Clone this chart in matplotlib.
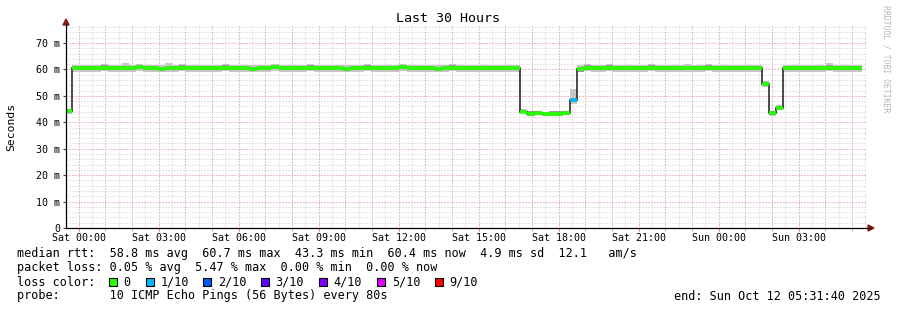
import numpy as np
import matplotlib
matplotlib.use("Agg")
import matplotlib.pyplot as plt
from matplotlib.patches import Rectangle, Polygon
from matplotlib.lines import Line2D

# ---- data (16 minute bins, hours relative to Sat 00:00) ----
bin_start = -0.503
bin_hours = 16 / 60.0

median_ms = [
    44.3, 60.5, 60.6, 60.4, 60.5, 60.7, 60.5, 60.6, 60.4, 60.5,
    60.8, 60.5, 60.6, 60.3, 60.5, 60.6, 60.7, 60.5, 60.4, 60.6,
    60.5, 60.5, 60.7, 60.4, 60.6, 60.5, 60.3, 60.5, 60.6, 60.8,
    60.5, 60.4, 60.6, 60.5, 60.7, 60.5, 60.4, 60.6, 60.5, 60.3,
    60.6, 60.5, 60.7, 60.5, 60.4, 60.6, 60.5, 60.8, 60.5, 60.4,
    60.6, 60.5, 60.3, 60.5, 60.7, 60.5, 60.6, 60.4, 60.5, 60.6,
    60.5, 60.4, 60.6, 60.5, 44.0, 43.3, 43.4, 43.2, 43.3, 43.3,
    43.4, 48.5, 60.0, 60.7, 60.6, 60.5, 60.7, 60.6, 60.5, 60.4,
    60.6, 60.5, 60.7, 60.5, 60.4, 60.6, 60.5, 60.6, 60.4, 60.5,
    60.7, 60.5, 60.6, 60.4, 60.5, 60.6, 60.5, 60.4, 54.5, 43.5,
    45.5, 60.5, 60.6, 60.4, 60.5, 60.6, 60.5, 60.7, 60.5, 60.6,
    60.4, 60.5,
]
smoke_hi = [
    45.0, 61.7, 61.8, 61.5, 61.7, 61.9, 61.8, 61.7, 62.4, 61.7,
    62.0, 61.8, 61.7, 61.6, 62.6, 61.8, 61.9, 61.7, 61.6, 61.8,
    61.7, 61.6, 61.9, 61.7, 61.8, 61.8, 61.5, 61.7, 61.8, 62.1,
    61.7, 61.6, 61.8, 61.8, 61.9, 61.7, 61.6, 61.8, 61.7, 61.5,
    61.8, 61.7, 61.9, 61.8, 61.6, 61.8, 61.7, 62.0, 61.8, 61.6,
    61.8, 61.7, 61.5, 61.7, 61.9, 61.8, 61.8, 61.6, 61.7, 61.8,
    61.7, 61.6, 61.8, 61.8, 44.9, 44.4, 44.2, 44.0, 44.3, 44.2,
    44.3, 52.5, 61.6, 62.0, 61.8, 61.7, 61.9, 61.8, 61.7, 61.6,
    61.8, 61.7, 61.9, 61.7, 61.6, 61.8, 61.7, 61.9, 61.6, 61.7,
    61.9, 61.7, 61.8, 61.6, 61.7, 61.8, 61.7, 61.6, 55.5, 44.2,
    46.6, 61.7, 61.8, 61.6, 61.7, 61.8, 61.7, 62.6, 61.7, 61.8,
    61.6, 61.7,
]
smoke_lo = [
    43.2, 59.0, 59.2, 59.0, 59.1, 59.3, 59.0, 59.2, 59.0, 59.1,
    59.3, 59.0, 59.2, 58.9, 59.1, 59.2, 59.3, 59.0, 59.0, 59.2,
    59.1, 59.0, 59.3, 59.0, 59.2, 59.1, 58.9, 59.0, 59.2, 59.3,
    59.1, 58.9, 59.2, 59.0, 59.3, 59.1, 59.0, 59.2, 59.1, 58.9,
    59.2, 59.0, 59.3, 59.1, 59.0, 59.2, 59.1, 59.3, 59.0, 58.9,
    59.2, 59.1, 58.9, 59.0, 59.3, 59.1, 59.2, 59.0, 59.1, 59.2,
    59.1, 59.0, 59.2, 59.1, 43.4, 42.5, 42.6, 42.4, 42.5, 42.5,
    42.6, 46.8, 59.1, 59.3, 59.2, 59.1, 59.3, 59.2, 59.1, 59.0,
    59.2, 59.1, 59.3, 59.1, 59.0, 59.2, 59.1, 59.2, 59.0, 59.1,
    59.3, 59.1, 59.2, 59.0, 59.1, 59.2, 59.1, 59.0, 53.2, 42.4,
    44.6, 59.1, 59.2, 59.0, 59.1, 59.2, 59.1, 59.3, 59.1, 59.2,
    59.0, 59.1,
]
loss_tenths = [0] * 112
loss_tenths[71] = 1

loss_labels = ["0", "1/10", "2/10", "3/10", "4/10", "5/10", "9/10"]
loss_colors = ["#26ff00", "#00b8ff", "#0059ff", "#5e00ff", "#7e00ff", "#dd00ff", "#ff0000"]
loss_color_of = {0: "#26ff00", 1: "#00b8ff", 2: "#0059ff", 3: "#5e00ff",
                 4: "#7e00ff", 5: "#dd00ff", 9: "#ff0000"}

tick_hours = [0, 3, 6, 9, 12, 15, 18, 21, 24, 27]
tick_labels = ["Sat 00:00", "Sat 03:00", "Sat 06:00", "Sat 09:00", "Sat 12:00",
               "Sat 15:00", "Sat 18:00", "Sat 21:00", "Sun 00:00", "Sun 03:00"]

legend_rtt = "median rtt:  58.8 ms avg  60.7 ms max  43.3 ms min  60.4 ms now  4.9 ms sd  12.1   am/s"
legend_loss = "packet loss: 0.05 % avg  5.47 % max  0.00 % min  0.00 % now"
legend_probe = "probe:       10 ICMP Echo Pings (56 Bytes) every 80s"
end_text = "end: Sun Oct 12 05:31:40 2025"

# ---- layout ----
W, H = 897, 310
mono = "DejaVu Sans Mono"


def fx(px):
    return px / W


def fy(py):
    return 1 - py / H


fig = plt.figure(figsize=(W / 100, H / 100), dpi=100)
fig.patch.set_facecolor("white")
ax = fig.add_axes([fx(66), fy(228), 800 / W, 202.2 / H])
ax.set_xlim(-0.4722, 29.5278)
ax.set_ylim(0, 76.5)

med = np.array(median_ms)
hi = np.array(smoke_hi)
lo = np.array(smoke_lo)
n = len(med)
edges = bin_start + bin_hours * np.arange(n + 1)

# grid
grid_kw = dict(linestyle=(0, (1, 2)), linewidth=0.72, zorder=0)
ax.vlines(np.arange(-0.5, 30, 0.5), 0, 76.5, colors="#cccccc", **grid_kw)
ax.hlines(np.arange(2, 77, 2), -0.4722, 29.5278, colors="#cccccc", **grid_kw)
ax.vlines(np.arange(0, 30, 1), 0, 76.5, colors="#f39a9a", **grid_kw)
ax.hlines(np.arange(10, 77, 10), -0.4722, 29.5278, colors="#f39a9a", **grid_kw)

# smoke
ax.stairs(hi, edges, baseline=lo, fill=True, color="#c6c6c6", lw=0, zorder=2)
inner_hi = np.minimum(hi, med + 0.8)
inner_lo = np.maximum(lo, med - 0.8)
ax.stairs(inner_hi, edges, baseline=inner_lo, fill=True, color="#9c9c9c", lw=0, zorder=2)

# median
ax.stairs(med, edges, baseline=None, color="#1a1a1a", lw=1.1, zorder=3)
cols = [loss_color_of[l] for l in loss_tenths]
ax.hlines(med, edges[:-1], edges[1:], colors=cols, lw=2.6, zorder=4)

# axes styling
for s in ["top", "right", "left", "bottom"]:
    ax.spines[s].set_visible(False)
ax.set_xticks(tick_hours)
ax.set_xticklabels(tick_labels, fontfamily=mono, fontsize=7.2)
ax.set_xticks(np.arange(0, 30, 1), minor=True)
ax.tick_params(axis="x", which="both", length=2, color="#e08080", pad=1.5)
yt = np.arange(0, 71, 10)
ax.set_yticks(yt)
ax.set_yticklabels(["0" if v == 0 else f"{v} m" for v in yt], fontfamily=mono, fontsize=7.2)
ax.set_yticks(np.arange(0, 77, 2), minor=True)
ax.tick_params(axis="y", which="major", length=2, color="#404040", pad=2)
ax.tick_params(axis="y", which="minor", length=0)

# axis lines with arrows
fig.add_artist(Line2D([fx(66), fx(870)], [fy(228), fy(228)], color="black", lw=0.9))
fig.add_artist(Line2D([fx(66), fx(66)], [fy(228), fy(24)], color="black", lw=0.9))
fig.add_artist(Polygon([[fx(868), fy(225)], [fx(874), fy(228)], [fx(868), fy(231)]],
                       closed=True, color="#8b1a1a", transform=fig.transFigure))
fig.add_artist(Polygon([[fx(63), fy(25)], [fx(66), fy(19)], [fx(69), fy(25)]],
                       closed=True, color="#8b1a1a", transform=fig.transFigure))

# texts
fig.text(fx(448), fy(19), "Last 30 Hours", ha="center", va="center", fontfamily=mono, fontsize=9.6)
fig.text(fx(11), fy(127), "Seconds", ha="center", va="center", rotation=90, fontfamily=mono, fontsize=8.2)
fig.text(fx(886), fy(5), "RRDTOOL / TOBI OETIKER", ha="center", va="top", rotation=270,
         fontfamily=mono, fontsize=5.9, color="#b8b8b8")

fig.text(fx(16.5), fy(254), legend_rtt, ha="left", va="center", fontfamily=mono, fontsize=8.5)
fig.text(fx(16.5), fy(268), legend_loss, ha="left", va="center", fontfamily=mono, fontsize=8.5)
fig.text(fx(16.5), fy(282), "loss color:", ha="left", va="center", fontfamily=mono, fontsize=8.5)
fig.text(fx(16.5), fy(296), legend_probe, ha="left", va="center", fontfamily=mono, fontsize=8.5)
fig.text(fx(881), fy(296), end_text, ha="right", va="center", fontfamily=mono, fontsize=8.5)

box_x = [108.7, 145.7, 203.3, 261, 319.3, 377.3, 435]
for bx, lab, c in zip(box_x, loss_labels, loss_colors):
    fig.add_artist(Rectangle((fx(bx), fy(286)), 8 / W, 8 / H, facecolor=c, edgecolor="black",
                             lw=0.8, transform=fig.transFigure))
    fig.text(fx(bx + 14.5), fy(282), lab, ha="left", va="center", fontfamily=mono, fontsize=8.5)

fig.savefig("out.png", dpi=100)
